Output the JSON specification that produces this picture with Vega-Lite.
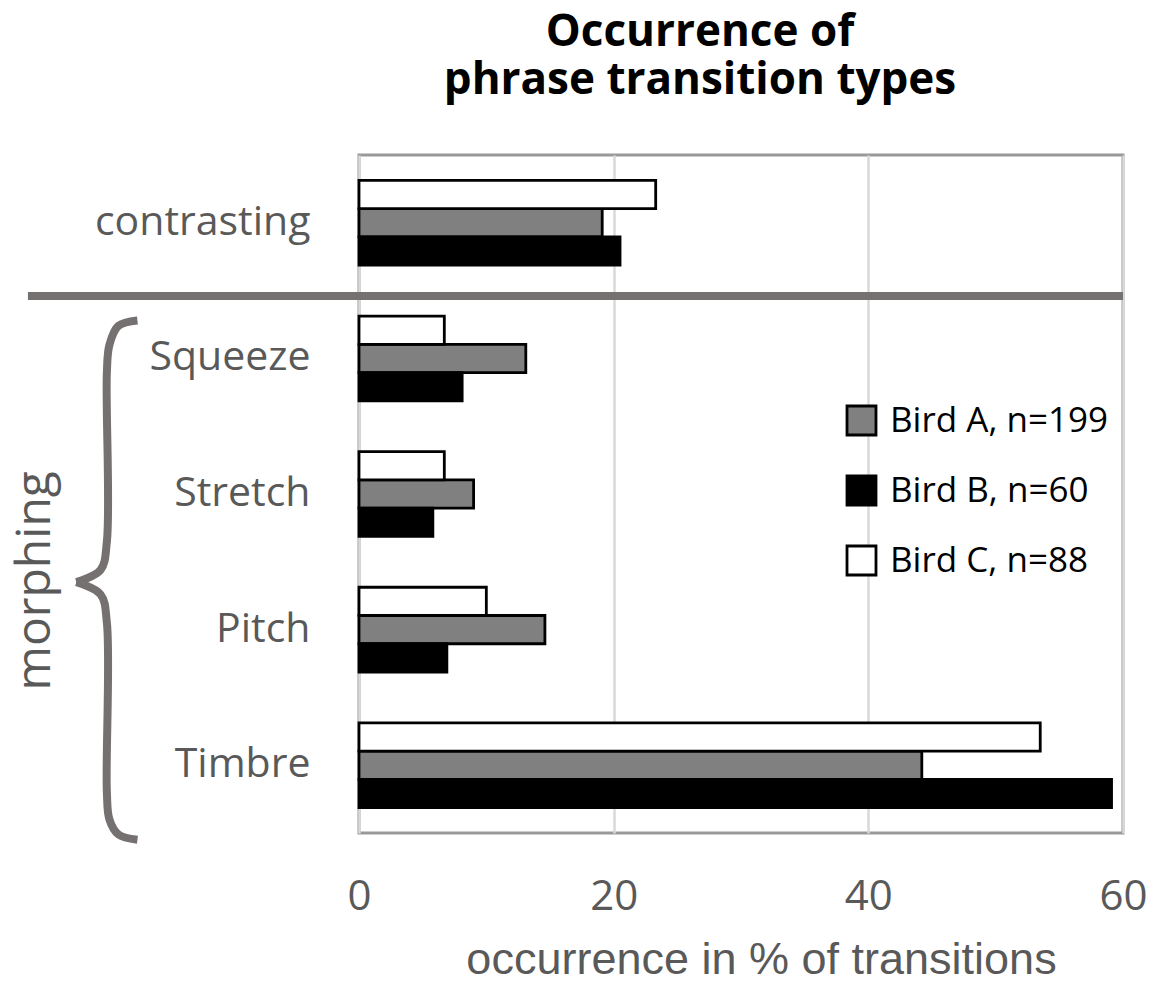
{
  "$schema": "https://vega.github.io/schema/vega-lite/v6.json",
  "width": 764,
  "height": 678,
  "autosize": {"type": "none"},
  "padding": {"left": 359, "top": 155, "right": 29, "bottom": 150},
  "background": "white",
  "title": {
    "text": ["Occurrence of", "phrase transition types"],
    "font": "Open Sans",
    "fontSize": 44,
    "fontWeight": "bold",
    "color": "#000000",
    "lineHeight": 48,
    "anchor": "middle",
    "dx": -41,
    "offset": 52
  },
  "layer": [
    {
      "data": {
        "values": [
          {"type": "contrasting", "bird": "Bird A, n=199", "pct": 19.1},
          {"type": "contrasting", "bird": "Bird B, n=60", "pct": 20.5},
          {"type": "contrasting", "bird": "Bird C, n=88", "pct": 23.3},
          {"type": "Squeeze", "bird": "Bird A, n=199", "pct": 13.1},
          {"type": "Squeeze", "bird": "Bird B, n=60", "pct": 8.1},
          {"type": "Squeeze", "bird": "Bird C, n=88", "pct": 6.7},
          {"type": "Stretch", "bird": "Bird A, n=199", "pct": 9.0},
          {"type": "Stretch", "bird": "Bird B, n=60", "pct": 5.8},
          {"type": "Stretch", "bird": "Bird C, n=88", "pct": 6.7},
          {"type": "Pitch", "bird": "Bird A, n=199", "pct": 14.6},
          {"type": "Pitch", "bird": "Bird B, n=60", "pct": 6.9},
          {"type": "Pitch", "bird": "Bird C, n=88", "pct": 10.0},
          {"type": "Timbre", "bird": "Bird A, n=199", "pct": 44.2},
          {"type": "Timbre", "bird": "Bird B, n=60", "pct": 59.1},
          {"type": "Timbre", "bird": "Bird C, n=88", "pct": 53.5}
        ]
      },
      "mark": {"type": "bar", "stroke": "#000000", "strokeWidth": 2.8},
      "encoding": {
        "y": {
          "field": "type",
          "type": "nominal",
          "sort": ["contrasting", "Squeeze", "Stretch", "Pitch", "Timbre"],
          "scale": {"paddingInner": 0, "paddingOuter": 0},
          "axis": {
            "title": null,
            "domain": false,
            "ticks": false,
            "labelFont": "Open Sans",
            "labelFontSize": 41,
            "labelColor": "#595959",
            "labelPadding": 49,
            "labelLimit": 0
          }
        },
        "yOffset": {
          "field": "bird",
          "type": "nominal",
          "sort": ["Bird C, n=88", "Bird A, n=199", "Bird B, n=60"],
          "scale": {"paddingInner": 0, "paddingOuter": 0.9}
        },
        "x": {
          "field": "pct",
          "type": "quantitative",
          "scale": {"domain": [0, 60], "nice": false},
          "axis": {
            "values": [0, 20, 40, 60],
            "title": "occurrence in % of transitions",
            "titleFont": "Liberation Sans",
            "titleFontSize": 45,
            "titleFontWeight": "normal",
            "titleColor": "#595959",
            "titleX": 402,
            "titlePadding": 20,
            "labelFont": "Open Sans",
            "labelFontSize": 42,
            "labelColor": "#595959",
            "labelPadding": 43,
            "labelFlush": false,
            "ticks": false,
            "domain": false,
            "grid": true,
            "gridColor": "#d9d9d9",
            "gridWidth": 2.5
          }
        },
        "fill": {
          "field": "bird",
          "type": "nominal",
          "scale": {
            "domain": ["Bird A, n=199", "Bird B, n=60", "Bird C, n=88"],
            "range": ["#808080", "#000000", "#ffffff"]
          },
          "legend": {
            "title": null,
            "orient": "none",
            "legendX": 485,
            "legendY": 248,
            "symbolType": "square",
            "symbolSize": 840,
            "symbolStrokeColor": "#000000",
            "symbolStrokeWidth": 2.8,
            "labelFont": "Open Sans",
            "labelFontSize": 35,
            "labelColor": "#000000",
            "labelOffset": 11,
            "labelLimit": 0,
            "rowPadding": 29
          }
        }
      }
    },
    {
      "data": {
        "values": [
          {"part": "upper", "order": 1, "bx": -17.4, "by": 1.22},
          {"part": "upper", "order": 2, "bx": -18.9, "by": 1.26},
          {"part": "upper", "order": 3, "bx": -19.6, "by": 1.4},
          {"part": "upper", "order": 4, "bx": -19.8, "by": 1.6},
          {"part": "upper", "order": 5, "bx": -19.8, "by": 2.85},
          {"part": "upper", "order": 6, "bx": -20.3, "by": 3.06},
          {"part": "upper", "order": 7, "bx": -22.2, "by": 3.15},
          {"part": "lower", "order": 7, "bx": -22.2, "by": 3.15},
          {"part": "lower", "order": 8, "bx": -20.3, "by": 3.24},
          {"part": "lower", "order": 9, "bx": -19.8, "by": 3.45},
          {"part": "lower", "order": 10, "bx": -19.8, "by": 4.7},
          {"part": "lower", "order": 11, "bx": -19.6, "by": 4.9},
          {"part": "lower", "order": 12, "bx": -18.9, "by": 5.01},
          {"part": "lower", "order": 13, "bx": -17.4, "by": 5.05}
        ]
      },
      "mark": {
        "type": "line",
        "interpolate": "catmull-rom",
        "stroke": "#767171",
        "strokeWidth": 8,
        "strokeCap": "butt",
        "strokeJoin": "miter"
      },
      "encoding": {
        "x": {"field": "bx", "type": "quantitative"},
        "y": {"field": "by", "type": "quantitative", "scale": {"domain": [0, 5], "reverse": true, "nice": false, "zero": false}, "axis": null},
        "detail": {"field": "part", "type": "nominal"},
        "order": {"field": "order", "type": "quantitative"}
      }
    },
    {
      "data": {"values": [{"label": "morphing"}]},
      "layer": [
        {
          "mark": {"type": "rule", "stroke": "#767171", "strokeWidth": 8},
          "encoding": {
            "x": {"datum": -26, "type": "quantitative"},
            "x2": {"datum": 60},
            "y": {"datum": 1.04, "type": "quantitative", "scale": {"domain": [0, 5], "reverse": true, "nice": false, "zero": false}, "axis": null}
          }
        },
        {
          "mark": {
            "type": "text",
            "angle": 270,
            "font": "Open Sans",
            "fontSize": 48,
            "color": "#595959",
            "align": "center",
            "baseline": "middle"
          },
          "encoding": {
            "text": {"field": "label"},
            "x": {"datum": -25.4, "type": "quantitative"},
            "y": {"datum": 3.14, "type": "quantitative", "scale": {"domain": [0, 5], "reverse": true, "nice": false, "zero": false}, "axis": null}
          }
        }
      ]
    }
  ],
  "resolve": {"scale": {"y": "independent"}},
  "config": {
    "view": {"stroke": "#999999", "strokeWidth": 3}
  }
}
